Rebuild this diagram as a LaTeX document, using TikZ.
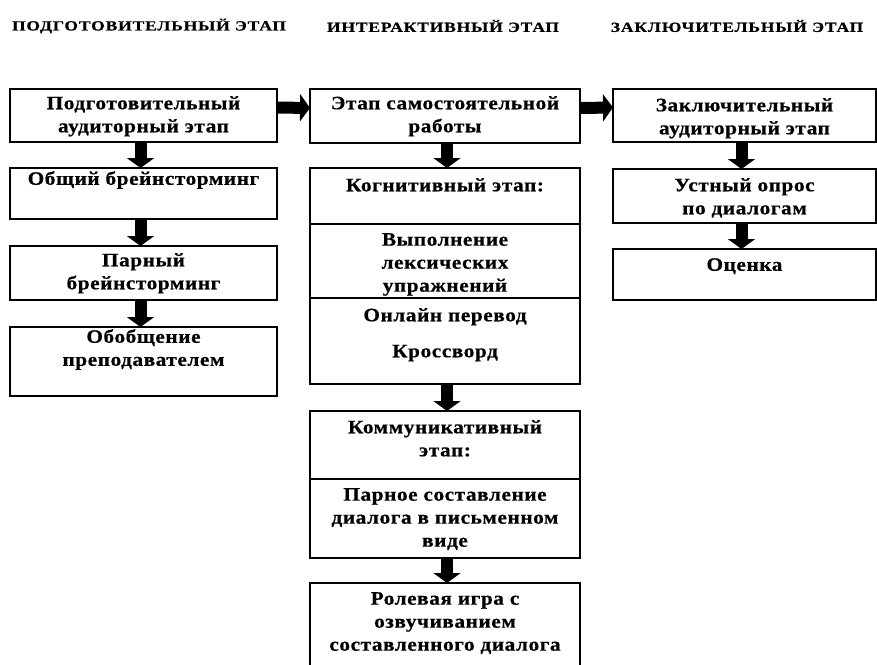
\documentclass[tikz,border=0pt]{standalone}
\usepackage{fontspec}
\setmainfont{Liberation Serif}
\usetikzlibrary{positioning,arrows.meta}

\begin{document}
\begin{tikzpicture}[
        x=1pt, y=1pt,
        box/.style = {draw, line width=1.2pt, minimum height=#1, inner sep=0pt, outer sep=0pt},
        lbl/.style = {align=center, inner sep=0pt,
            font=\bfseries\fontsize{19}{23}\selectfont\addfontfeatures{FakeStretch=1.12,FakeBold=0.6,LetterSpace=3}},
        hdr/.style = {font=\bfseries\fontsize{14}{16}\selectfont\addfontfeatures{FakeStretch=1.25,FakeBold=0.6,LetterSpace=6}},
        blk/.style = {line width=12pt, -{Triangle[length=10pt, width=27pt]}},
        node distance = 26pt
    ]
        \useasboundingbox (0,0) rectangle (877,-664);
        % headers
        \node[hdr] (h1) at (149,-26) {ПОДГОТОВИТЕЛЬНЫЙ ЭТАП};
        \node[hdr] (h2) at (443,-26) {ИНТЕРАКТИВНЫЙ ЭТАП};
        \node[hdr] (h3) at (737,-26) {ЗАКЛЮЧИТЕЛЬНЫЙ ЭТАП};
        % preparatory column
        \node[box=53pt, minimum width=267pt, anchor=north west] (L1) at (10,-89) {};
        \node[box=51pt, minimum width=267pt, below=of L1] (L2) {};
        \node[box=54pt, minimum width=267pt, below=27pt of L2] (L3) {};
        \node[box=69pt, minimum width=267pt, below=27pt of L3] (L4) {};
        % interactive column
        \node[box=54pt, minimum width=270pt, anchor=north west] (M1) at (310,-89) {};
        \node[box=56pt, minimum width=270pt, below=25pt of M1] (C1) {};
        \node[box=74pt, minimum width=270pt, below=0pt of C1] (C2) {};
        \node[box=86pt, minimum width=270pt, below=0pt of C2] (C3) {};
        \node[box=68pt, minimum width=270pt, below=27pt of C3] (K1) {};
        \node[box=79pt, minimum width=270pt, below=0pt of K1] (K2) {};
        \node[box=88pt, minimum width=270pt, below=25pt of K2] (M4) {};
        % final column
        \node[box=53pt, minimum width=263pt, anchor=north west] (R1) at (613,-89) {};
        \node[box=54pt, minimum width=263pt, below=27pt of R1] (R2) {};
        \node[box=51pt, minimum width=263pt, below=26pt of R2] (R3) {};
        % texts
        \node[lbl, below=7pt of L1.north] (tL1) {Подготовительный\\аудиторный этап};
        \node[lbl, below=3pt of L2.north] (tL2) {Общий брейнсторминг};
        \node[lbl, below=7pt of L3.north] (tL3) {Парный\\брейнсторминг};
        \node[lbl, below=2pt of L4.north] (tL4) {Обобщение\\преподавателем};
        \node[lbl, below=7pt of M1.north] (tM1) {Этап самостоятельной\\работы};
        \node[lbl, below=10pt of C1.north] (tC1) {Когнитивный этап:};
        \node[lbl, below=9pt of C2.north] (tC2) {Выполнение\\лексических\\упражнений};
        \node[lbl, below=10pt of C3.north] (tC3) {Онлайн перевод\\[13pt]Кроссворд};
        \node[lbl, below=9pt of K1.north] (tK1) {Коммуникативный\\этап:};
        \node[lbl, below=9pt of K2.north] (tK2) {Парное составление\\диалога в письменном\\виде};
        \node[lbl, below=9pt of M4.north] (tM4) {Ролевая игра с\\озвучиванием\\составленного диалога};
        \node[lbl, below=9pt of R1.north] (tR1) {Заключительный\\аудиторный этап};
        \node[lbl, below=9pt of R2.north] (tR2) {Устный опрос\\по диалогам};
        \node[lbl, below=9pt of R3.north] (tR3) {Оценка};
        % block arrows
        \draw[blk] ([yshift=8pt]L1.east) -- ([yshift=8pt]M1.west);
        \draw[blk] ([yshift=8pt]M1.east) -- ([yshift=8pt]R1.west);
        \draw[blk] ([xshift=-3pt]L1.south) -- ([xshift=-3pt]L2.north);
        \draw[blk] ([xshift=-3pt]L2.south) -- ([xshift=-3pt]L3.north);
        \draw[blk] ([xshift=-3pt]L3.south) -- ([xshift=-3pt]L4.north);
        \draw[blk] ([xshift=2pt]M1.south) -- ([xshift=2pt]C1.north);
        \draw[blk] ([xshift=2pt]C3.south) -- ([xshift=2pt]K1.north);
        \draw[blk] ([xshift=2pt]K2.south) -- ([xshift=2pt]M4.north);
        \draw[blk] ([xshift=-3pt]R1.south) -- ([xshift=-3pt]R2.north);
        \draw[blk] ([xshift=-3pt]R2.south) -- ([xshift=-3pt]R3.north);
    \end{tikzpicture}
\end{document}
